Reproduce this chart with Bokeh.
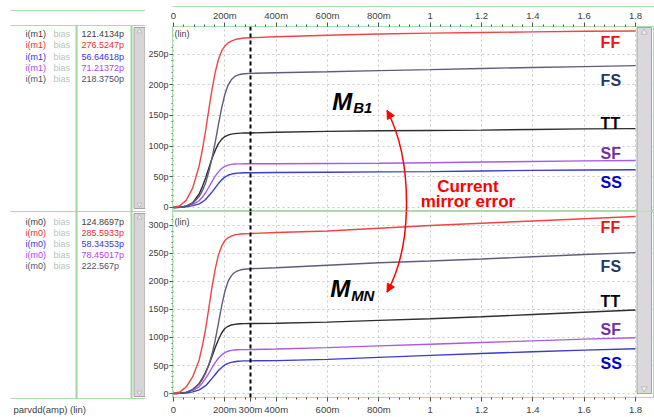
from bokeh.plotting import figure
from bokeh.layouts import row, column
from bokeh.models import (Range1d, FixedTicker, Span, Arrow, NormalHead, LinearAxis,
                          ColumnDataSource, CustomJSTickFormatter)
from bokeh.embed import file_html
from bokeh.resources import INLINE
from bokeh.core.properties import value

# ---------------- data ----------------
X = [0, 0.025, 0.05, 0.075, 0.1, 0.1125, 0.125, 0.1375, 0.15, 0.1625, 0.175, 0.1875, 0.2,
     0.2125, 0.225, 0.2375, 0.25, 0.2625, 0.275, 0.3,
     0.4, 0.6, 0.8, 1.0, 1.2, 1.4, 1.6, 1.8]

# upper panel: i(m1)  (pA)
FF_top = [0, 3, 12, 32, 68, 94, 125, 159, 192, 220, 241, 255, 263, 268, 271, 273, 274.5, 275.3, 276, 276.5,
          278, 280.5, 282.5, 284, 285, 286, 287, 287.5]
FS_top = [0, 0.5, 2.5, 7, 18, 27, 40, 58, 80, 106, 135, 162, 184, 199, 208, 213, 215.5, 217, 217.8, 218.4,
          219.5, 221, 223, 224.5, 226.5, 228, 229.5, 231]
TT_top = [0, 0.5, 2, 8, 22, 34, 48, 64, 80, 93, 104, 111, 115.5, 118, 119.5, 120.3, 120.8, 121.1, 121.3, 121.4,
          122.5, 124, 125, 125.5, 126, 127, 128, 128.5]
SF_top = [0, 0.5, 2, 5, 11, 17, 24, 33, 42, 51, 58, 63.5, 67, 69, 70.2, 70.8, 71, 71.1, 71.2, 71.2,
          71.3, 71.6, 72, 73, 74, 75, 76, 76.5]
SS_top = [0, 0.3, 1, 3, 6, 9, 13, 19, 25, 32, 39, 45, 49.5, 52.5, 54.3, 55.4, 56, 56.3, 56.5, 56.6,
          57, 57.5, 58, 58.5, 59.5, 60.5, 61, 61.5]

# lower panel: i(m0)  (pA)
FF_bot = [0, 3, 12, 30, 60, 85, 115, 152, 190, 222, 247, 263, 273, 278, 281, 283, 284, 284.8, 285.2, 285.6,
          287.5, 290, 295, 300, 304, 308, 312, 316]
FS_bot = [0, 0.5, 2.5, 7, 17, 25, 36, 51, 70, 95, 125, 156, 182, 200, 210, 216, 219, 220.8, 221.8, 222.6,
          224.5, 229, 233.5, 236.5, 240, 244, 248, 251.5]
TT_bot = [0, 0.5, 2, 7, 18, 27, 38, 51, 66, 82, 96, 108, 116, 120, 122.3, 123.5, 124.1, 124.5, 124.7, 124.9,
          125.5, 127.5, 130.5, 133.5, 137, 141, 145, 149]
SF_bot = [0, 0.5, 2, 5.5, 12, 19, 27, 36, 46, 55, 63, 69, 73, 75.5, 77, 77.8, 78.2, 78.3, 78.4, 78.45,
          79.5, 82, 85, 88, 91, 94, 97, 99.5]
SS_bot = [0, 0.3, 1, 3, 6.5, 10, 14, 20, 27, 34, 41, 46.5, 51, 53.8, 55.5, 56.7, 57.5, 57.9, 58.2, 58.34,
          58.8, 61, 64.5, 68, 71.5, 74.5, 77.5, 80]

CORNERS = ["FF", "FS", "TT", "SF", "SS"]
CURSOR_X = 0.3
CURSOR_LABEL = "300m"

# cursor read-outs in the left panel (row order as shown)
ROW_NAMES_TOP = ["i(m1)"] * 5
ROW_NAMES_BOT = ["i(m0)"] * 5
ROW_VALUES_TOP = ["121.4134p", "276.5247p", "56.64618p", "71.21372p", "218.3750p"]
ROW_VALUES_BOT = ["124.8697p", "285.5933p", "58.34353p", "78.45017p", "222.567p"]

X_TICKS = [0, 0.2, 0.4, 0.6, 0.8, 1.0, 1.2, 1.4, 1.6, 1.8]
X_TICK_LABELS = ["0", "200m", "400m", "600m", "800m", "1", "1.2", "1.4", "1.6", "1.8"]
Y_TICKS_TOP = [0, 50, 100, 150, 200, 250]
Y_TICK_LABELS_TOP = ["0", "50p", "100p", "150p", "200p", "250p"]
Y_TICKS_BOT = [0, 50, 100, 150, 200, 250, 300]
Y_TICK_LABELS_BOT = ["0", "50p", "100p", "150p", "200p", "250p", "300p"]

# ---------------- styles ----------------
FONT = "Liberation Sans"
LINE_COLORS = {"FF": "#f04444", "FS": "#5e5e7c", "TT": "#2e2e2e", "SF": "#ab5ae6", "SS": "#3b3bcc"}
TAG_COLORS = {"FF": "#f01010", "FS": "#1f3864", "TT": "#000000", "SF": "#7030a0", "SS": "#0000c8"}
ROW_COLORS = ["#404040", "#e83030", "#3535e0", "#b044f0", "#505068"]
GREEN = "#a9dca9"
GRID = "#c9c9c9"
TICKC = "#505050"

# page geometry (pixels)
W_LEFT = 145
FIG_W = 654 - W_LEFT
BL = 26
TOP_H, BOT_H = 211, 206


def xd(px):
    return (px - 172.0) / 257.2


def yt(py):
    return (207.0 - py) / 0.614


def yb(py):
    return (394.0 - py) / 0.5633


def fmt(ticks, labels):
    return CustomJSTickFormatter(args=dict(tv=ticks, tl=labels), code="""
        let b = -1, bd = 1e9;
        for (let i = 0; i < tv.length; i++) { const d = Math.abs(tv[i] - tick); if (d < bd) { bd = d; b = i; } }
        return bd < 1e-6 ? tl[b] : "";
    """)


def make_panel(top):
    if top:
        p = figure(width=FIG_W, height=TOP_H, x_range=Range1d(xd(W_LEFT + BL), xd(654)),
                   y_range=Range1d(yt(211), yt(26)), x_axis_location="above",
                   min_border_left=BL, min_border_right=0, min_border_top=26, min_border_bottom=0,
                   output_backend="svg", toolbar_location=None)
        yticks, ylabels, Y = Y_TICKS_TOP, Y_TICK_LABELS_TOP, yt
    else:
        p = figure(width=FIG_W, height=BOT_H, x_range=Range1d(xd(W_LEFT + BL), xd(654)),
                   y_range=Range1d(yb(398), yb(211)), x_axis_location="below",
                   min_border_left=BL, min_border_right=0, min_border_top=0, min_border_bottom=19,
                   output_backend="svg", toolbar_location=None)
        yticks, ylabels, Y = Y_TICKS_BOT, Y_TICK_LABELS_BOT, yb
    p.background_fill_color = "white"
    p.border_fill_color = "white"
    p.outline_line_color = GREEN
    p.outline_line_width = 1

    minor_x = [i * 0.04 for i in range(46)]
    xt = FixedTicker(ticks=X_TICKS, minor_ticks=minor_x)
    if top:
        p.xaxis.ticker = xt
        p.xaxis.formatter = fmt(X_TICKS, X_TICK_LABELS)
    else:
        # the lower axis also shows the cursor position
        ticks_b = sorted(X_TICKS + [CURSOR_X])
        labels_b = [X_TICK_LABELS[X_TICKS.index(t)] if t in X_TICKS else CURSOR_LABEL for t in ticks_b]
        p.xaxis.ticker = FixedTicker(ticks=ticks_b, minor_ticks=minor_x)
        p.xaxis.formatter = fmt(ticks_b, labels_b)
    yt_ = FixedTicker(ticks=yticks, minor_ticks=list(range(0, yticks[-1] + 11, 10)))
    p.yaxis.ticker = yt_
    p.yaxis.formatter = fmt(yticks, ylabels)
    for ax in (p.xaxis, p.yaxis):
        ax.axis_line_color = GREEN
        ax.major_tick_line_color = TICKC
        ax.minor_tick_line_color = TICKC
        ax.major_tick_in = 0
        ax.minor_tick_in = 0
        ax.major_label_text_color = "#404040"
        ax.major_label_text_font = FONT
    p.xaxis.major_tick_out = 4
    p.xaxis.minor_tick_out = 2
    p.xaxis.major_label_text_font_size = "9.5px"
    p.xaxis.major_label_standoff = 2
    p.yaxis.major_tick_out = 3
    p.yaxis.minor_tick_out = 1
    p.yaxis.major_label_text_font_size = "9px"
    p.yaxis.major_label_standoff = 1

    if top:
        # thin header rule above the tick labels
        hdr = LinearAxis(ticker=FixedTicker(ticks=[]), axis_line_color=GREEN, major_tick_out=0,
                         minor_tick_out=0, major_tick_in=0, minor_tick_in=0,
                         major_label_text_font_size="0px")
        p.add_layout(hdr, "above")

    p.xgrid.ticker = xt
    p.ygrid.ticker = FixedTicker(ticks=yticks)
    p.grid.grid_line_color = GRID
    p.grid.grid_line_dash = "2 3"
    p.grid.grid_line_width = 1

    series = {"FF": FF_top, "FS": FS_top, "TT": TT_top, "SF": SF_top, "SS": SS_top} if top else \
             {"FF": FF_bot, "FS": FS_bot, "TT": TT_bot, "SF": SF_bot, "SS": SS_bot}
    for name in ["SS", "SF", "TT", "FS", "FF"]:
        src = ColumnDataSource(dict(x=X, y=series[name]))
        p.line("x", "y", source=src, line_color=LINE_COLORS[name], line_width=1.4)

    p.add_layout(Span(location=CURSOR_X, dimension="height", line_color="black",
                      line_dash="4 3", line_width=2))

    # right scrollbar
    if top:
        p.quad(left=xd(636.5), right=xd(651), top=yt(27), bottom=yt(230),
               fill_color="#d9d9d9", line_color="#a6a6a6")
        p.scatter(x=[xd(643.7)], y=[yt(32)], marker="triangle", size=6,
                  fill_color="#efefef", line_color="#bdbdbd")
    else:
        p.quad(left=xd(636.5), right=xd(651), top=yb(190), bottom=yb(394),
               fill_color="#d9d9d9", line_color="#a6a6a6")
        p.scatter(x=[xd(643.7)], y=[yb(389)], marker="inverted_triangle", size=6,
                  fill_color="#efefef", line_color="#bdbdbd")

    # (lin)
    p.text(x=[xd(173)], y=[Y(33.5) if top else Y(222)], text=["(lin)"], text_font=value(FONT),
           text_font_size="9px", text_color="#404040", text_baseline="middle")

    # corner tags (vertical centres)
    if top:
        mid = [41.5, 80, 122.5, 152.5, 181.5]
    else:
        mid = [227.5, 266.5, 301, 330, 364]
    p.text(x=[xd(600)] * 5, y=[Y(m) for m in mid], text=CORNERS,
           text_color=[TAG_COLORS[c] for c in CORNERS], text_font=value(FONT),
           text_font_style="bold", text_font_size="16px", text_baseline="middle")

    # M labels
    if top:
        p.text(x=[xd(331)], y=[Y(101)], text=["M"], text_font=value(FONT), text_font_style="bold italic",
               text_font_size="24px", text_color="black", text_baseline="middle")
        p.text(x=[xd(352)], y=[Y(107)], text=["B1"], text_font=value(FONT), text_font_style="bold italic",
               text_font_size="15px", text_color="black", text_baseline="middle")
        # "Current mirror error"
        p.text(x=[xd(467), xd(467)], y=[Y(186), Y(200.5)], text=["Current", "mirror error"],
               text_font=value(FONT), text_font_style="bold", text_font_size="17px",
               text_color="#ff0000", text_align="center", text_baseline="middle")
    else:
        p.text(x=[xd(329)], y=[Y(288.5)], text=["M"], text_font=value(FONT), text_font_style="bold italic",
               text_font_size="24px", text_color="black", text_baseline="middle")
        p.text(x=[xd(350)], y=[Y(295)], text=["MN"], text_font=value(FONT), text_font_style="bold italic",
               text_font_size="15px", text_color="black", text_baseline="middle")

    # curved double arrow (drawn in both panels, joined at the seam)
    p.bezier(x0=[xd(386)], y0=[Y(110)], x1=[xd(386)], y1=[Y(292)],
             cx0=[xd(412)], cy0=[Y(160)], cx1=[xd(412)], cy1=[Y(245)],
             line_color="#ff0000", line_width=1.5)
    if top:
        p.add_layout(Arrow(end=NormalHead(size=8, fill_color="#ff0000", line_color="#ff0000"),
                           x_start=xd(389.5), y_start=Y(116.5), x_end=xd(386), y_end=Y(110),
                           line_color="#ff0000", line_width=1.5))
    else:
        p.add_layout(Arrow(end=NormalHead(size=8, fill_color="#ff0000", line_color="#ff0000"),
                           x_start=xd(389.5), y_start=Y(285.5), x_end=xd(386), y_end=Y(292),
                           line_color="#ff0000", line_width=1.5))
    return p


top_fig = make_panel(True)
bot_fig = make_panel(False)

# ---------------- left read-out panel ----------------
lf = figure(width=W_LEFT, height=417, x_range=Range1d(0, W_LEFT), y_range=Range1d(417, 0),
            min_border=0, x_axis_location=None, y_axis_location=None,
            output_backend="svg", toolbar_location=None)
lf.outline_line_color = None
lf.grid.visible = False
lf.background_fill_color = "white"

lf.segment(x0=[10, 10, 10, 10], y0=[10, 25, 211, 398], x1=[W_LEFT] * 4, y1=[10, 25, 211, 398],
           line_color=GREEN, line_width=1)
lf.segment(x0=[76, 131], y0=[25, 25], x1=[76, 131], y1=[398, 398], line_color="#9fd69f", line_width=2)
# scrollbars
lf.quad(left=[133.5, 133.5], right=[144.5, 144.5], top=[27, 213], bottom=[208, 396],
        fill_color="#d6d6d6", line_color="#a6a6a6")
lf.scatter(x=[139, 139, 139, 139], y=[31, 204, 217, 392],
           marker=["triangle", "inverted_triangle", "triangle", "inverted_triangle"],
           size=5, fill_color="#efefef", line_color="#bdbdbd")

row_y_top = [33, 44.5, 56, 67, 78.5]
row_y_bot = [221, 232, 243, 254, 265]
for ys, names, vals in ((row_y_top, ROW_NAMES_TOP, ROW_VALUES_TOP), (row_y_bot, ROW_NAMES_BOT, ROW_VALUES_BOT)):
    lf.text(x=[25] * 5, y=ys, text=names, text_color=ROW_COLORS, text_font=value(FONT),
            text_font_size="9px", text_baseline="middle")
    lf.text(x=[53] * 5, y=ys, text=["bias"] * 5, text_color="#b4c6bc", text_font=value(FONT),
            text_font_size="9px", text_baseline="middle")
    lf.text(x=[81] * 5, y=ys, text=vals, text_color=ROW_COLORS, text_font=value(FONT),
            text_font_size="9px", text_baseline="middle")

lf.text(x=[13], y=[409], text=["parvdd(amp) (lin)"], text_color="#404040", text_font=value(FONT),
        text_font_size="9.5px", text_baseline="middle")

layout = row(lf, column(top_fig, bot_fig, spacing=0), spacing=0)
open("out.html", "w").write(file_html(layout, INLINE))
